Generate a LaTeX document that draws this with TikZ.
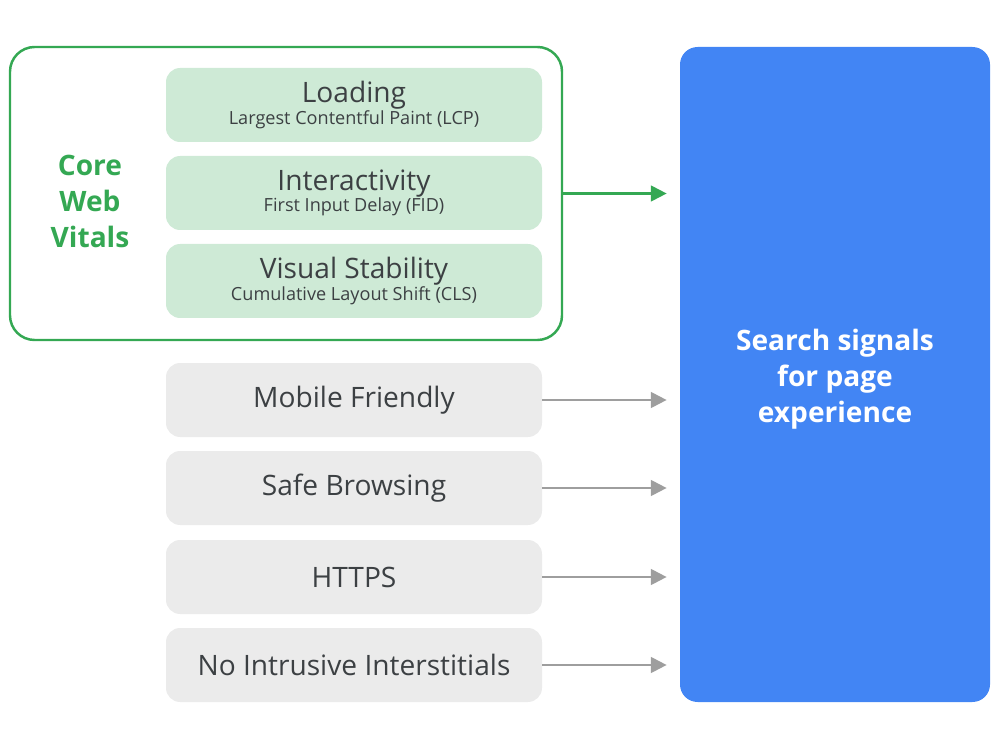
\documentclass[tikz,border=0pt]{standalone}
\usepackage{fontspec}
\setmainfont{Open Sans}
\usepackage{tikz}
\usetikzlibrary{arrows.meta, positioning}
\definecolor{vitalgreen}{HTML}{34A853}
\definecolor{vitalfill}{HTML}{CEEAD6}
\definecolor{signalgray}{HTML}{EBEBEB}
\definecolor{arrowgray}{HTML}{9E9E9E}
\definecolor{signalblue}{HTML}{4285F4}
\definecolor{textdark}{HTML}{3C4043}

\begin{document}
\begin{tikzpicture}[
    vitalbox/.style={fill=vitalfill, rounded corners=8pt, minimum width=7.52cm,
      minimum height=1.48cm, align=center, text=textdark, inner sep=0pt},
    signalbox/.style={fill=signalgray, rounded corners=8pt, minimum width=7.52cm,
      minimum height=1.48cm, text=textdark, font=\fontsize{16}{19}\selectfont},
    feed/.style={draw=arrowgray, line width=1.2pt, -{Triangle[length=9pt, width=9pt]}, shorten >=0.26cm}
]
  \useasboundingbox (0,0) rectangle (20,15);

  % Core Web Vitals group
  \node[draw=vitalgreen, line width=1.4pt, rounded corners=14pt,
    minimum width=11.04cm, minimum height=5.86cm] (vitals) at (5.72,11.13) {};
  \node[vitalbox] (loading) at (7.08,12.9)
    {\fontsize{16}{19}\selectfont Loading\\\fontsize{10.3}{17}\selectfont Largest Contentful Paint (LCP)};
  \node[vitalbox] (interactivity) at (7.08,11.14)
    {\fontsize{16}{19}\selectfont Interactivity\\\fontsize{10.3}{17}\selectfont First Input Delay (FID)};
  \node[vitalbox] (stability) at (7.08,9.38)
    {\fontsize{16}{19}\selectfont Visual Stability\\\fontsize{10.3}{17}\selectfont Cumulative Layout Shift (CLS)};
  \node[text=vitalgreen, align=center, font=\bfseries\fontsize{16}{20.5}\selectfont] (cwv) at (1.8,10.98)
    {Core\\Web\\Vitals};

  % Other signals
  \node[signalbox] (mobile) at (7.08,7.0) {Mobile Friendly};
  \node[signalbox] (safe) at (7.08,5.24) {Safe Browsing};
  \node[signalbox] (https) at (7.08,3.46) {HTTPS};
  \node[signalbox] (interstitials) at (7.08,1.7) {No Intrusive Interstitials};

  % Page experience
  \node[fill=signalblue, rounded corners=10pt, minimum width=6.2cm, minimum height=13.1cm] (search) at (16.7,7.51) {};
  \node[text=white, align=center, font=\bfseries\fontsize{16}{20.5}\selectfont] (searchtext)
    at ([yshift=-0.1cm]search.center) {Search signals\\for page\\experience};

  % Arrows into the blue box
  \draw[feed, draw=vitalgreen] (vitals.east) -- (vitals.east -| search.west);
  \foreach \s in {mobile, safe, https, interstitials} {
    \draw[feed] (\s.east) -- (\s.east -| search.west);
  }
\end{tikzpicture}
\end{document}
